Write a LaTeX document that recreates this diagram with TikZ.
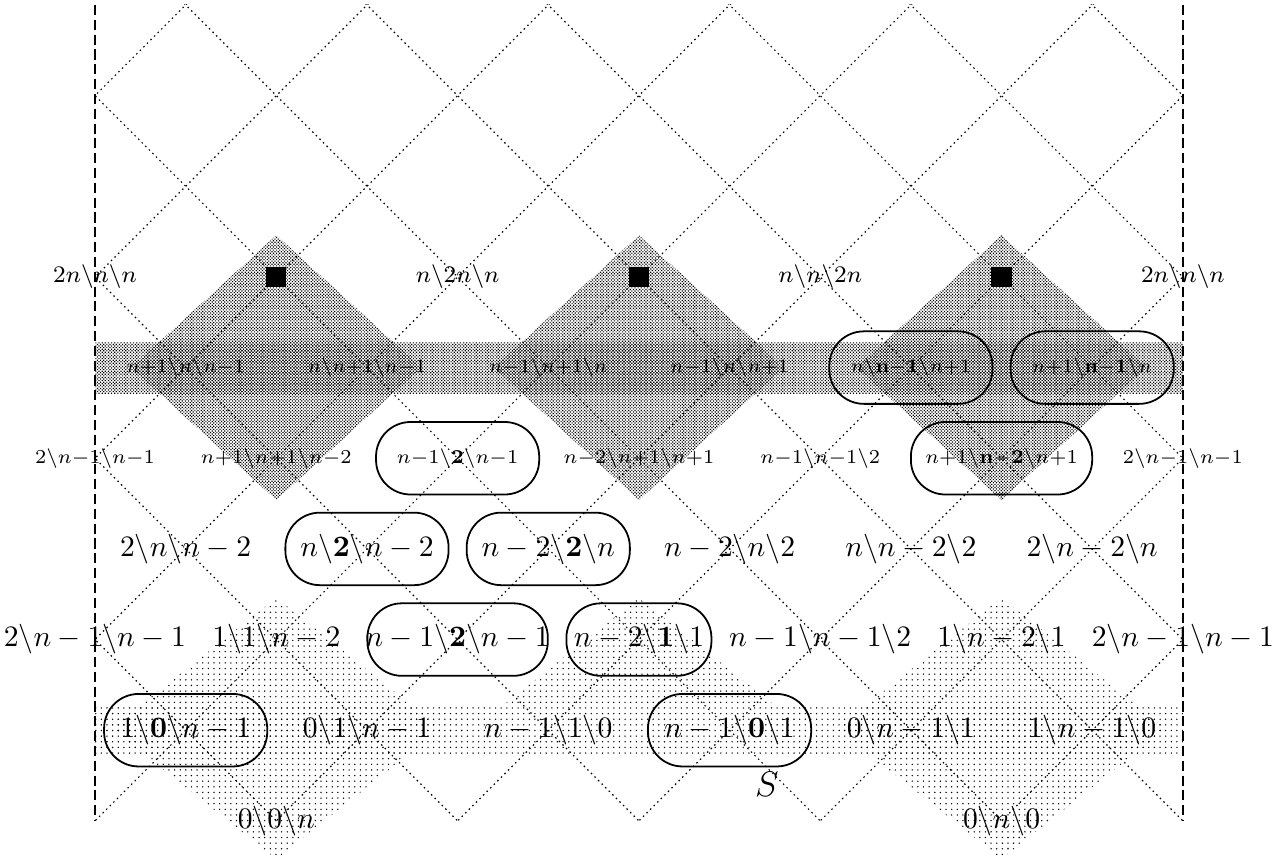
\documentclass[tikz,border=0pt]{standalone}
\usepackage{graphicx}
\usetikzlibrary{patterns.meta}
\newcommand{\bk}{\backslash}
\newcommand{\rtwo}[1]{\scalebox{0.92}{$\scriptstyle #1$}}
\newcommand{\rthree}[1]{\scalebox{0.95}{$\scriptstyle #1$}}
\begin{document}
\begin{tikzpicture}[x=1.075cm, y=-1.075cm,
  lat/.style={line width=0.4pt, dash pattern=on 0.5pt off 1.2pt},
  wall/.style={line width=0.8pt, dash pattern=on 3.4pt off 1.6pt},
  dense/.style={pattern={Dots[distance=0.75pt, angle=45, radius=0.28pt]}},
  sparse/.style={pattern={Dots[distance=1.9pt, radius=0.26pt]}},
  lab/.style={inner sep=0pt},
  oval/.style={draw, line width=0.6pt, rounded corners=0.41cm, minimum width=1.935cm, minimum height=0.86cm, inner sep=0pt},
  sq/.style={fill=black, minimum size=0.24cm, inner sep=0pt}]
\useasboundingbox (-1.048,-0.055) rectangle (13.138,9.432);

% shaded regions
\path[dense] (0,3.72) rectangle (12,4.29);
\foreach \c in {2,6,10}
  \path[dense] (\c,2.54) -- (\c+1.6,4) -- (\c,5.46) -- (\c-1.6,4) -- cycle;
\path[sparse] (0,7.72) rectangle (12,8.27);
\foreach \c in {2,10}
  \path[sparse] (\c,6.54) -- (\c+1.82,7.98) -- (\c,9.42) -- (\c-1.82,7.98) -- cycle;
\path[sparse] (6,6.54) -- (7.49,7.72) -- (4.51,7.72) -- cycle;

% lattice
\begin{scope}
  \clip (0,0) rectangle (12,9);
  \foreach \c in {1,3,...,19} \draw[lat] (\c+1,-1) -- (\c-10,10);
  \foreach \d in {-7,-5,...,11} \draw[lat] (\d-1,-1) -- (\d+10,10);
\end{scope}

% walls
\coordinate (wl0) at (0,0);
\coordinate (wl1) at (0,9);
\coordinate (wr0) at (12,0);
\coordinate (wr1) at (12,9);
\draw[wall] (wl0) -- (wl1);
\draw[wall] (wr0) -- (wr1);

% row 3
\node[lab] (a03) at (0,3) {\footnotesize$2n\bk n\bk n$};
\node[sq] (q1) at (2,3) {};
\node[lab] (a43) at (4,3) {\footnotesize$n\bk 2n\bk n$};
\node[sq] (q2) at (6,3) {};
\node[lab] (a83) at (8,3) {\footnotesize$n\bk n\bk 2n$};
\node[sq] (q3) at (10,3) {};
\node[lab] (a123) at (12,3) {\footnotesize$2n\bk n\bk n$};

% row 4
\node[lab] (a14) at (1,4) {\rtwo{n+1\bk n\bk n-1}};
\node[lab] (a34) at (3,4) {\rtwo{n\bk n+1\bk n-1}};
\node[lab] (a54) at (5,4) {\rtwo{n-1\bk n+1\bk n}};
\node[lab] (a74) at (7,4) {\rtwo{n-1\bk n\bk n+1}};
\node[lab] (a94) at (9,4) {\rtwo{n\bk \mathbf{n-1}\bk n+1}};
\node[lab] (a114) at (11,4) {\rtwo{n+1\bk \mathbf{n-1}\bk n}};

% row 5
\node[lab] (a05) at (0,5) {\rthree{2\bk n-1\bk n-1}};
\node[lab] (a25) at (2,5) {\rthree{n+1\bk n+1\bk n-2}};
\node[lab] (a45) at (4,5) {\rthree{n-1\bk \mathbf{2}\bk n-1}};
\node[lab] (a65) at (6,5) {\rthree{n-2\bk n+1\bk n+1}};
\node[lab] (a85) at (8,5) {\rthree{n-1\bk n-1\bk 2}};
\node[lab] (a105) at (10,5) {\rthree{n+1\bk \mathbf{n-2}\bk n+1}};
\node[lab] (a125) at (12,5) {\rthree{2\bk n-1\bk n-1}};

% row 6
\node[lab] (a16) at (1,6) {$2\bk n\bk n-2$};
\node[lab] (a36) at (3,6) {$n\bk \mathbf{2}\bk n-2$};
\node[lab] (a56) at (5,6) {$n-2\bk \mathbf{2}\bk n$};
\node[lab] (a76) at (7,6) {$n-2\bk n\bk 2$};
\node[lab] (a96) at (9,6) {$n\bk n-2\bk 2$};
\node[lab] (a116) at (11,6) {$2\bk n-2\bk n$};

% row 7
\node[lab] (a07) at (0,7) {$2\bk n-1\bk n-1$};
\node[lab] (a27) at (2,7) {$1\bk 1\bk n-2$};
\node[lab] (a47) at (4,7) {$n-1\bk \mathbf{2}\bk n-1$};
\node[lab] (a67) at (6,7) {$n-2\bk \mathbf{1}\bk 1$};
\node[lab] (a87) at (8,7) {$n-1\bk n-1\bk 2$};
\node[lab] (a107) at (10,7) {$1\bk n-2\bk 1$};
\node[lab] (a127) at (12,7) {$2\bk n-1\bk n-1$};

% row 8
\node[lab] (a18) at (1,8) {$1\bk \mathbf{0}\bk n-1$};
\node[lab] (a38) at (3,8) {$0\bk 1\bk n-1$};
\node[lab] (a58) at (5,8) {$n-1\bk 1\bk 0$};
\node[lab] (a78) at (7,8) {$n-1\bk \mathbf{0}\bk 1$};
\node[lab] (a98) at (9,8) {$0\bk n-1\bk 1$};
\node[lab] (a118) at (11,8) {$1\bk n-1\bk 0$};

% row 9
\node[lab] (a29) at (2,9) {$0\bk 0\bk n$};
\node[lab] (a109) at (10,9) {$0\bk n\bk 0$};

\node[lab] (s) at (7.41,8.60) {\large$S$};

% ovals
\node[oval] (o94) at (a94) {};
\node[oval] (o114) at (a114) {};
\node[oval] (o45) at (a45) {};
\node[oval, minimum width=2.15cm] (o105) at (a105) {};
\node[oval] (o36) at (a36) {};
\node[oval] (o56) at (a56) {};
\node[oval, minimum width=2.14cm] (o47) at (a47) {};
\node[oval, minimum width=1.72cm] (o67) at (a67) {};
\node[oval] (o18) at (a18) {};
\node[oval] (o78) at (a78) {};
\end{tikzpicture}
\end{document}
